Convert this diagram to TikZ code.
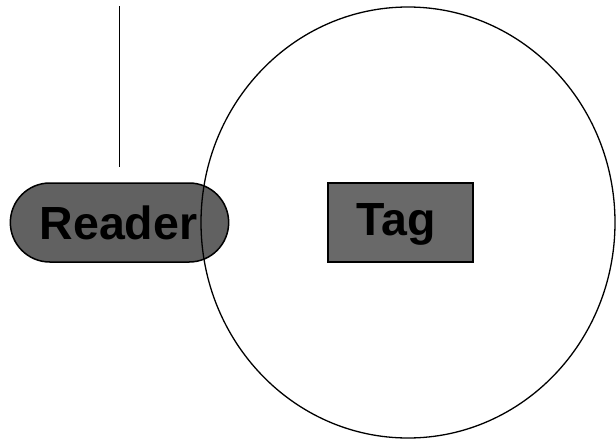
\documentclass[tikz,border=0pt]{standalone}
\usepackage{fontspec}
\setmainfont{Liberation Sans}
\usetikzlibrary{shapes.misc,shapes.geometric}
\begin{document}
\begin{tikzpicture}[x=1pt,y=-1pt,
  lbl/.style={font=\fontsize{46.5}{50}\selectfont\bfseries, text=black, inner sep=0pt, anchor=base west},
  readerbox/.style={draw=black, line width=1.5pt, fill=black!62, rounded rectangle, minimum width=225pt, minimum height=79pt},
  tagbox/.style={draw=black, line width=1.5pt, fill=black!59, rectangle, minimum width=145pt, minimum height=79pt},
  ring/.style={draw=black, line width=1.3pt}]
\useasboundingbox (0,0) rectangle (616,442);
\node[readerbox] (reader) at (119.5,222.5) {};
\node[lbl] (readertext) at (39.5,239) {Reader};
\node[tagbox] (tag) at (400.5,222.5) {};
\node[lbl] (tagtext) at (356,235) {Tag};
\coordinate (ltop) at (119.5,6);
\coordinate (lbot) at (119.5,167);
\draw[line width=1.5pt] (ltop) -- (lbot);
\node[ring, ellipse, minimum width=414pt, minimum height=431pt, inner sep=0pt] (field) at (408,222.5) {};
\end{tikzpicture}
\end{document}
